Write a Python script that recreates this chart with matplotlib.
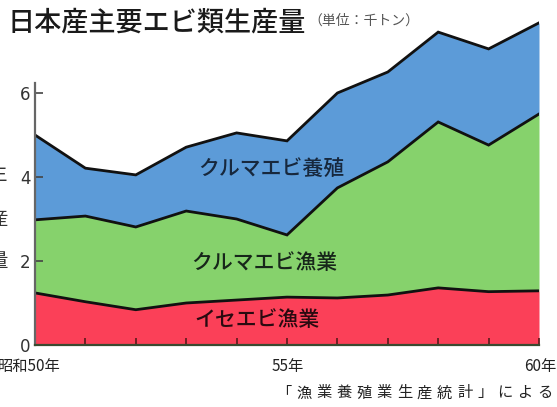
import matplotlib
matplotlib.use("Agg")
import matplotlib.pyplot as plt
import numpy as np

plt.rcParams['font.family'] = ['Noto Sans CJK JP', 'DejaVu Sans']

# Production of major shrimp in Japan (thousand tonnes), Showa 50-60
years = [50, 51, 52, 53, 54, 55, 56, 57, 58, 59, 60]
ise_fishery = [1.24, 1.03, 0.84, 1.00, 1.07, 1.14, 1.12, 1.19, 1.36, 1.27, 1.29]
kuruma_fishery = [1.74, 2.04, 1.97, 2.19, 1.93, 1.48, 2.62, 3.17, 3.95, 3.49, 4.21]
kuruma_culture = [2.02, 1.14, 1.24, 1.52, 2.05, 2.24, 2.26, 2.14, 2.14, 2.29, 2.17]

series_names = ['イセエビ漁業', 'クルマエビ漁業', 'クルマエビ養殖']
colors = ['#fb4058', '#86d26c', '#5c9bd8']
ytick_values = [0, 2, 4, 6]
xtick_labels = {50: '昭和50年', 55: '55年', 60: '60年'}

W, H = 557, 407
fig = plt.figure(figsize=(W / 100, H / 100), dpi=100)
ax = fig.add_axes([35 / W, 62 / H, 504 / W, 336 / H])

x = np.array(years, dtype=float)
layers = [np.array(ise_fishery), np.array(kuruma_fishery), np.array(kuruma_culture)]
base = np.zeros_like(x)
for vals, col in zip(layers, colors):
    top = base + vals
    ax.fill_between(x, base, top, color=col, lw=0, zorder=1)
    ax.plot(x, top, color='#111111', lw=2.0, solid_joinstyle='miter', zorder=3)
    base = top

ax.set_xlim(50, 60)
ax.set_ylim(0, 8)

for s in ['top', 'right']:
    ax.spines[s].set_visible(False)
ax.spines['left'].set_bounds(0, 6.25)
ax.spines['left'].set_color('#666666')
ax.spines['left'].set_linewidth(1.6)
ax.spines['bottom'].set_color('#3a4a30')
ax.spines['bottom'].set_linewidth(1.6)
ax.spines['left'].set_zorder(4)
ax.spines['bottom'].set_zorder(4)

ax.set_xticks(years)
ax.set_xticklabels([])
ax.tick_params(axis='x', direction='in', length=5, width=1.2, colors='#5a1a1a')
ax.set_yticks(ytick_values)
ax.set_yticklabels([str(v) for v in ytick_values], fontsize=12, color='#333333',
                   family=['DejaVu Sans'])
ax.tick_params(axis='y', direction='in', length=6, width=1.2, colors='#444444',
               pad=3, labelcolor='#333333')

# year labels under the axis
for yr, lab in xtick_labels.items():
    ha = 'left' if yr == 50 else 'center'
    xoff = -37 if yr == 50 else 1
    ax.annotate(lab, xy=(yr, 0), xycoords='data', xytext=(xoff, -21),
                textcoords='offset pixels', ha=ha, va='center', fontsize=11,
                color='#222222')

# area labels
label_style = dict(ha='center', va='center', fontsize=15, fontweight='medium', zorder=5)
ax.text(54.68, 4.17, series_names[2], color='#17283d', **label_style)
ax.text(54.54, 1.95, series_names[1], color='#17261a', **label_style)
ax.text(54.40, 0.60, series_names[0], color='#2a0a10', **label_style)

# title and unit
fig.text(8 / W, 1 - 23 / H, '日本産主要エビ類生産量', ha='left', va='center',
         fontsize=19.5, fontweight='medium', color='#1a1a1a')
fig.text(308 / W, 1 - 21 / H, '（単位：千トン）', ha='left', va='center',
         fontsize=10, color='#555555')

# vertical axis caption
for ch, yy in zip('生産量', [175, 220, 262]):
    fig.text(-2 / W, 1 - yy / H, ch, ha='center', va='center', fontsize=14,
             color='#333333')

# source note, letter-spaced
source = '「漁業養殖業生産統計」による'
x0, x1 = 284, 545
step = (x1 - x0) / (len(source) - 1)
for i, ch in enumerate(source):
    fig.text((x0 + i * step) / W, 1 - 393 / H, ch, ha='center', va='center',
             fontsize=11, color='#222222')

fig.savefig('out.png', dpi=100)
